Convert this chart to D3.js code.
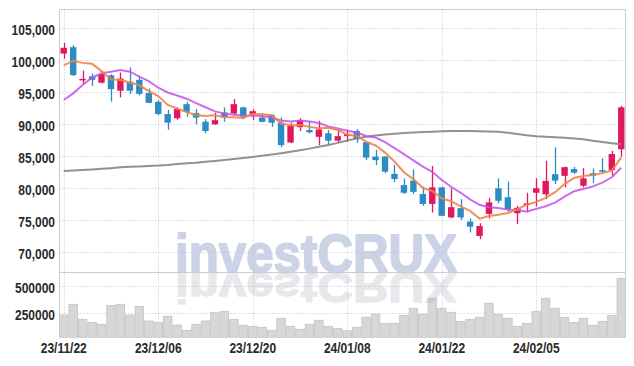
<!DOCTYPE html>
<html><head><meta charset="utf-8">
<script src="https://cdn.jsdelivr.net/npm/d3@7"></script>
<style>
html,body{margin:0;padding:0;background:#fff;}
svg{display:block;}
.ax text{font-family:'Liberation Sans','Arial',sans-serif;font-weight:bold;font-size:15px;fill:#2a2a2a;}
</style></head><body><svg id="c" width="634" height="366"></svg>
<script>
const dates=["2023-11-22","2023-11-23","2023-11-24","2023-11-27","2023-11-28","2023-11-29","2023-11-30","2023-12-01","2023-12-04","2023-12-05","2023-12-06","2023-12-07","2023-12-08","2023-12-11","2023-12-12","2023-12-13","2023-12-14","2023-12-15","2023-12-18","2023-12-19","2023-12-20","2023-12-21","2023-12-22","2023-12-26","2023-12-27","2023-12-28","2024-01-02","2024-01-03","2024-01-04","2024-01-05","2024-01-08","2024-01-09","2024-01-10","2024-01-11","2024-01-12","2024-01-15","2024-01-16","2024-01-17","2024-01-18","2024-01-19","2024-01-22","2024-01-23","2024-01-24","2024-01-25","2024-01-26","2024-01-29","2024-01-30","2024-01-31","2024-02-01","2024-02-02","2024-02-05","2024-02-06","2024-02-07","2024-02-08","2024-02-13","2024-02-14","2024-02-15","2024-02-16","2024-02-19","2024-02-20"];
const open=[101050,102050,97000,97500,96500,97650,95250,96650,96950,94900,93500,91600,90950,93150,91750,90400,90000,91850,91700,92650,91400,91050,91450,90250,87150,89550,89100,88050,88600,87450,88150,88950,87200,84950,84950,82250,80500,81200,79100,77550,80150,75450,76900,74800,72550,76000,80000,78600,76100,77400,79300,79050,82200,81950,83000,80400,82350,82850,82850,86100];
const high=[102750,102350,98400,97950,98350,97850,98100,98900,97600,95600,93800,92250,92600,93500,92400,90800,91800,92650,93950,92750,92350,91700,91550,91100,90250,90950,90550,90550,89100,89100,89200,89250,87300,86000,85050,83650,81550,82950,80250,83500,80250,80000,78300,75300,74550,78450,81550,81050,77250,79300,81550,84300,86400,83400,83350,83150,83100,84700,85850,92850];
const low=[100250,97550,96300,96000,96400,93550,94200,94750,94500,93300,91450,89150,90700,91200,90000,88600,89900,90400,91450,90800,90650,90300,89600,86400,87050,88950,88600,86750,86850,87100,87300,87100,84400,83650,82350,80950,79100,79100,77250,76200,75650,75300,75050,73100,72050,75300,77650,76350,74400,76350,77150,78300,80650,80150,82250,80150,80850,82350,81950,84950];
const close=[101950,97700,97100,96950,97850,95500,97150,95250,94750,93350,91600,90250,92400,91950,91050,88950,90650,91050,93150,91200,92050,90400,90250,86750,89800,90650,88750,89200,87450,88150,88450,87650,84800,84400,82600,81450,79300,79450,77550,80150,75700,77050,75450,74000,74100,77800,78050,76750,76950,77650,80000,81150,81200,83300,82450,81550,81950,82600,85350,92650];
const volume=[234000,331000,196000,168000,150000,322000,331000,234000,313000,180000,168000,223000,144000,96000,150000,180000,259000,268000,196000,142000,132000,123000,96000,205000,132000,105000,150000,187000,132000,114000,92000,123000,214000,241000,159000,159000,232000,295000,241000,386000,295000,259000,177000,196000,214000,341000,241000,205000,132000,159000,268000,386000,295000,214000,168000,205000,142000,177000,232000,567000];
const ma5=[99200,99900,99600,99450,98310,97020,96910,96540,96100,95200,94420,93040,92470,91910,91450,91300,91400,91100,91100,91000,91620,91570,91410,90130,89850,89900,89600,89400,89450,89100,88400,88180,87300,86690,85580,84180,82510,81440,80070,79580,78430,77980,77180,76470,75260,75680,75880,76140,76730,77440,77880,78500,79390,80660,81620,81930,82090,82370,82780,84820];
const ma10=[93800,94840,96140,97280,97970,98220,98480,98220,97440,96755,95720,94975,94505,94005,93325,92670,92020,91700,91500,91350,91350,91300,91070,90600,90450,90600,90450,90220,89650,89345,88985,88710,88165,87930,87210,86290,85345,84370,83380,82580,81305,80245,79310,78270,77420,77055,76930,76660,76600,76350,76780,77190,77765,78695,79530,79905,80295,80880,81720,83220];
const maLong=[82700,82780,82870,82950,83050,83150,83280,83350,83420,83500,83550,83650,83800,83900,84000,84150,84280,84420,84570,84730,84900,85080,85270,85480,85700,85950,86200,86480,86780,87100,87480,87800,88050,88250,88400,88530,88640,88730,88800,88850,88900,88950,88960,88950,88930,88880,88820,88700,88500,88300,88150,88050,87980,87900,87800,87650,87430,87230,87050,86870];
const priceTicks=[70000,75000,80000,85000,90000,95000,100000,105000];
const volTicks=[250000,500000];
const dateTickIdx=[0,10,20,30,40,50];

const svg=d3.select("#c");
const L=59.5,R=626,T=9.5,PB=272,VB=337.3;
const n=dates.length;
const x=d3.scaleBand().domain(d3.range(n)).range([59,626]);
const cx=i=>x(i)+x.bandwidth()/2;
const y=d3.scaleLinear().domain([66920,108020]).range([PB,T-0.5]);
const yv=d3.scaleLinear().domain([32600,624000]).range([VB,PB]);
const fmtDate=d=>{const p=d.split("-");return p[0].slice(2)+"/"+p[1]+"/"+p[2];};

// watermark (behind grid)
const wm="investCRUX";
svg.append("text").attr("x",175).attr("y",272).attr("textLength",282).attr("lengthAdjust","spacingAndGlyphs")
  .attr("font-family","'Liberation Sans','Arial',sans-serif").attr("font-weight","bold").attr("font-size",54)
  .attr("fill","#cdd3e7").attr("stroke","#cdd3e7").attr("stroke-width",1.8).attr("stroke-linejoin","round").text(wm);

// grid
const grid=svg.append("g").attr("stroke","#bfc3d6").attr("stroke-dasharray","1,2").attr("stroke-width",1);
priceTicks.forEach(v=>grid.append("line").attr("x1",L).attr("x2",R).attr("y1",Math.round(y(v))+0.5).attr("y2",Math.round(y(v))+0.5));
volTicks.forEach(v=>grid.append("line").attr("x1",L).attr("x2",R).attr("y1",Math.round(yv(v))+0.5).attr("y2",Math.round(yv(v))+0.5));
dateTickIdx.forEach(i=>grid.append("line").attr("x1",Math.round(cx(i))+0.5).attr("x2",Math.round(cx(i))+0.5).attr("y1",T).attr("y2",VB));

// volume bars
svg.append("g").selectAll("rect").data(volume).join("rect")
  .attr("x",(d,i)=>x(i)+0.5).attr("width",x.bandwidth()-1)
  .attr("y",d=>yv(d)).attr("height",d=>VB-yv(d))
  .attr("fill","#d7d7d7").attr("stroke","#c3c3c3").attr("stroke-width",0.8);

// reflection
svg.append("text").attr("x",175).attr("y",272).attr("textLength",282).attr("lengthAdjust","spacingAndGlyphs")
  .attr("font-family","'Liberation Sans','Arial',sans-serif").attr("font-weight","bold").attr("font-size",54)
  .attr("transform","translate(0,272.5) scale(1,-0.8) translate(0,-272)")
  .attr("fill","#b4b4c2").attr("stroke","#b4b4c2").attr("stroke-width",1.6).attr("opacity",0.3).text(wm);

// frame
const fr=svg.append("g").attr("stroke","#cccccc").attr("stroke-width",1);
fr.append("line").attr("x1",L).attr("x2",R).attr("y1",T).attr("y2",T);
fr.append("line").attr("x1",L).attr("x2",L).attr("y1",T).attr("y2",VB);
fr.append("line").attr("x1",R-0.5).attr("x2",R-0.5).attr("y1",T).attr("y2",VB);
fr.append("line").attr("x1",L).attr("x2",R).attr("y1",PB+0.5).attr("y2",PB+0.5);

// candles
const up="#e2185f",dn="#2d8cc4";
const cg=svg.append("g");
cg.selectAll("line").data(d3.range(n)).join("line")
  .attr("x1",i=>Math.round(cx(i))+0.5).attr("x2",i=>Math.round(cx(i))+0.5)
  .attr("y1",i=>y(high[i])).attr("y2",i=>y(low[i]))
  .attr("stroke",i=>close[i]>=open[i]?up:dn).attr("stroke-width",1.3);
const bw=6.4;
cg.selectAll("rect").data(d3.range(n)).join("rect")
  .attr("x",i=>cx(i)-bw/2).attr("width",bw)
  .attr("y",i=>y(Math.max(open[i],close[i])))
  .attr("height",i=>Math.max(1.5,Math.abs(y(open[i])-y(close[i]))))
  .attr("fill",i=>close[i]>=open[i]?up:dn);

// MA lines
const line=arr=>d3.line().x((d,i)=>cx(i)).y(d=>y(d))(arr);
svg.append("path").attr("d",line(maLong)).attr("fill","none").attr("stroke","#858585").attr("stroke-width",2).attr("opacity",0.9);
svg.append("path").attr("d",line(ma10)).attr("fill","none").attr("stroke","#c452e6").attr("stroke-width",2).attr("opacity",0.85);
svg.append("path").attr("d",line(ma5)).attr("fill","none").attr("stroke","#ee8448").attr("stroke-width",2).attr("opacity",0.9);

// axes
const condense=sel=>sel.selectAll("text").each(function(){const w=this.getComputedTextLength();d3.select(this).attr("textLength",w*0.8).attr("lengthAdjust","spacingAndGlyphs");});
const ay=svg.append("g").attr("class","ax").attr("transform","translate(55,0)")
  .call(d3.axisLeft(y).tickValues(priceTicks).tickFormat(d3.format(",")).tickSize(0).tickPadding(0));
ay.select(".domain").remove();
ay.selectAll("text").attr("dy","0.42em");
condense(ay);
const av=svg.append("g").attr("class","ax").attr("transform","translate(55,0)")
  .call(d3.axisLeft(yv).tickValues(volTicks).tickFormat(d3.format("d")).tickSize(0).tickPadding(0));
av.select(".domain").remove();
av.selectAll("text").attr("dy","0.42em");
condense(av);
const xt=d3.scaleBand().domain(dates).range([59,626]);
const ax=svg.append("g").attr("class","ax").attr("transform","translate(0,342)")
  .call(d3.axisBottom(xt).tickValues(dateTickIdx.map(i=>dates[i])).tickFormat(fmtDate).tickSize(0).tickPadding(0));
ax.select(".domain").remove();
ax.selectAll("text").attr("dy","0.72em");
condense(ax);
</script></body></html>
